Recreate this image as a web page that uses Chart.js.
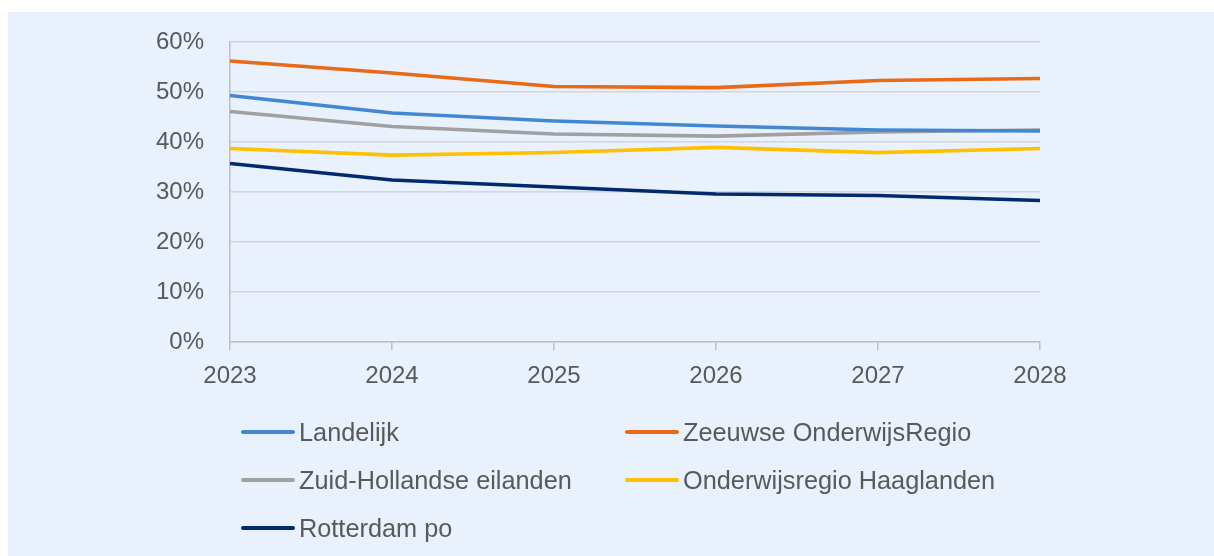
<!DOCTYPE html>
<html>
<head>
<meta charset="utf-8">
<script src="https://cdn.jsdelivr.net/npm/chart.js@4"></script>
<style>
    html, body { margin: 0; padding: 0; background: #ffffff; }
    #wrap { position: relative; width: 1214px; height: 556px; overflow: hidden; }
    #bg { position: absolute; left: 8px; top: 12px; right: 0; bottom: 0; background: #e9f1fc; }
    #chart { position: absolute; left: 0; top: 0; }
    #legend { position: absolute; left: 0; top: 0; width: 1214px; height: 556px; pointer-events: none; }
    .item { position: absolute; height: 30px; display: flex; align-items: center;
            font-family: "Liberation Sans", Arial, sans-serif; font-size: 25.3px; color: #595959; white-space: nowrap; }
    .swatch { width: 54px; height: 4px; border-radius: 2px; margin-right: 4px; }
</style>
</head>
<body>
<div id="wrap">
    <div id="bg"></div>
    <canvas id="chart" width="1214" height="556"></canvas>
    <div id="legend"></div>
</div>
<script>
// data
const years = ['2023', '2024', '2025', '2026', '2027', '2028'];
const landelijk      = [49.3, 45.8, 44.2, 43.2, 42.4, 42.2];
const zeeuwse        = [56.2, 53.8, 51.1, 50.9, 52.3, 52.7];
const zuidHollandse  = [46.1, 43.1, 41.6, 41.2, 42.0, 42.4];
const haaglanden     = [38.7, 37.4, 37.9, 38.9, 37.9, 38.7];
const rotterdam      = [35.7, 32.4, 31.0, 29.6, 29.3, 28.3];
const yTicks = [0, 10, 20, 30, 40, 50, 60];

const textColor = '#595959';

function series(label, data, color) {
    return {
        label: label,
        data: data,
        borderColor: color,
        backgroundColor: color,
        borderWidth: 3.75,
        pointRadius: 0,
        tension: 0,
        fill: false
    };
}

const datasets = [
    series('Landelijk', landelijk, '#4088d2'),
    series('Zeeuwse OnderwijsRegio', zeeuwse, '#e86a17'),
    series('Zuid-Hollandse eilanden', zuidHollandse, '#a0a0a0'),
    series('Onderwijsregio Haaglanden', haaglanden, '#ffc000'),
    series('Rotterdam po', rotterdam, '#012a6e')
];

const chart = new Chart(document.getElementById('chart').getContext('2d'), {
    type: 'line',
    data: { labels: years, datasets: datasets },
    options: {
        responsive: false,
        animation: false,
        layout: { padding: { left: 0, right: 174, top: 42, bottom: 0 } },
        scales: {
            x: {
                offset: false,
                grid: { drawOnChartArea: false, drawTicks: true, tickLength: 8, color: '#bfbfbf', lineWidth: 1.5 },
                border: { color: '#bfbfbf', width: 1.5 },
                ticks: {
                    color: textColor, padding: 12, maxRotation: 0,
                    font: { family: '"Liberation Sans", Arial, sans-serif', size: 24 }
                },
                afterFit: function(scale) { scale.height = 214; }
            },
            y: {
                min: 0,
                max: 60,
                afterBuildTicks: function(scale) { scale.ticks = yTicks.map(v => ({ value: v })); },
                grid: { drawTicks: false, color: '#d6d6d6', lineWidth: 1.5 },
                border: { color: '#bfbfbf', width: 1.5 },
                ticks: {
                    color: textColor, padding: 26,
                    font: { family: '"Liberation Sans", Arial, sans-serif', size: 24 },
                    callback: function(v) { return v + '%'; }
                },
                afterFit: function(scale) { scale.width = 230; }
            }
        },
        plugins: {
            legend: { display: false },
            tooltip: { enabled: false }
        }
    }
});

// legend in two columns under the chart
const legendEl = document.getElementById('legend');
const colLeft = [241, 625];
const rowMid = [432, 480, 528];
chart.data.datasets.forEach(function(ds, i) {
    const item = document.createElement('div');
    item.className = 'item';
    item.style.left = colLeft[i % 2] + 'px';
    item.style.top = (rowMid[Math.floor(i / 2)] - 15) + 'px';
    const sw = document.createElement('span');
    sw.className = 'swatch';
    sw.style.background = ds.borderColor;
    const txt = document.createElement('span');
    txt.textContent = ds.label;
    item.appendChild(sw);
    item.appendChild(txt);
    legendEl.appendChild(item);
});
</script>
</body>
</html>
